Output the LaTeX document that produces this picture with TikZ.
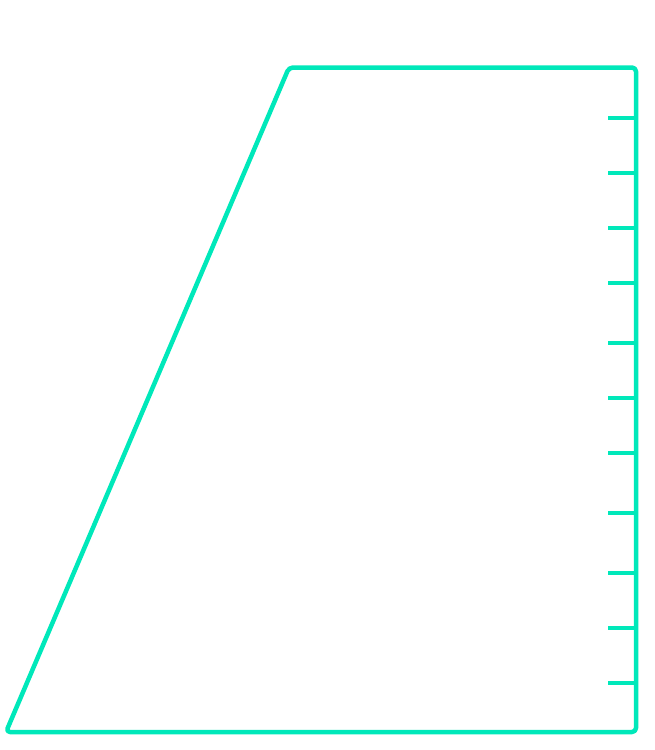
\documentclass[tikz,border=0pt]{standalone}
\definecolor{mint}{RGB}{0,232,186}
\tikzset{edge/.style={draw=mint,line width=4.5pt,rounded corners=4pt,line join=round},
tickmark/.style={draw=mint,line width=4.5pt}}
\begin{document}
\begin{tikzpicture}[x=1pt,y=-1pt]
\useasboundingbox (0,0) rectangle (655,750);
\coordinate (tl) at (289,67.5);
\coordinate (tr) at (636,67.5);
\coordinate (br) at (636,732);
\coordinate (bl) at (6,732);
\draw[edge] (tl) -- (tr) -- (br) -- (bl) -- cycle;
\foreach \y [count=\i] in {118,173,228,283,343,398,453,513,573,628,683}{
  \coordinate (s\i) at (608,\y);
  \coordinate (e\i) at (636,\y);
  \draw[tickmark] (s\i) -- (e\i);
}
\end{tikzpicture}
\end{document}
